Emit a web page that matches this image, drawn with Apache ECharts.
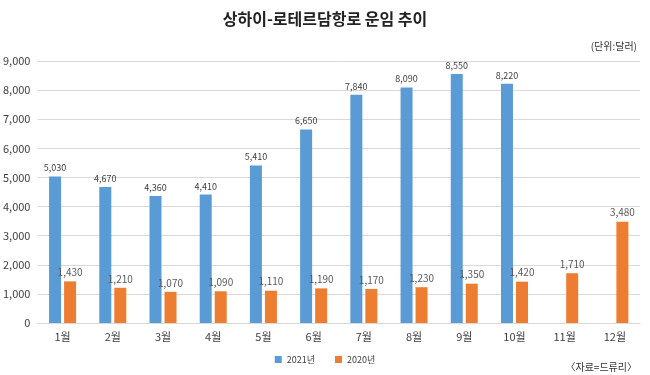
<!DOCTYPE html>
<html><head><meta charset="utf-8">
<script src="https://cdn.jsdelivr.net/npm/echarts@6/dist/echarts.min.js"></script>
<style>html,body{margin:0;padding:0;background:#fff}#c{width:650px;height:375px}</style>
</head><body><div id="c"></div>
<script>
const categories = ['1월','2월','3월','4월','5월','6월','7월','8월','9월','10월','11월','12월'];
const s2021 = [5030,4670,4360,4410,5410,6650,7840,8090,8550,8220,null,null];
const s2020 = [1430,1210,1070,1090,1110,1190,1170,1230,1350,1420,1710,3480];
const F = '"Noto Sans CJK KR","Noto Sans",sans-serif';
const chart = echarts.init(document.getElementById('c'));
chart.setOption({
  animation:false,
  textStyle:{fontFamily:F},
  title:[{text:'상하이-로테르담항로 운임 추이',left:'center',top:6,textStyle:{fontFamily:F,fontSize:16,fontWeight:'bold',color:'#222'}},
         {text:'(단위:달러)',right:8,top:36,textStyle:{fontFamily:F,fontSize:10,fontWeight:'normal',color:'#333'}},
         {text:'〈자료=드류리〉',right:8,top:357,textStyle:{fontFamily:F,fontSize:10,fontWeight:'normal',color:'#333'}}],
  legend:{bottom:6,left:'center',itemWidth:7,itemHeight:7,itemGap:20,icon:'rect',textStyle:{fontFamily:F,fontSize:9,color:'#404040'},data:['2021년','2020년']},
  grid:{left:37,right:10,top:61,bottom:52},
  xAxis:{type:'category',data:categories,axisTick:{show:false},axisLine:{lineStyle:{color:'#d9d9d9'}},
    axisLabel:{fontSize:11,color:'#404040',fontFamily:F,margin:8}},
  yAxis:{type:'value',min:0,max:9000,interval:1000,axisLine:{show:false},axisTick:{show:false},
    splitLine:{lineStyle:{color:'#d9d9d9'}},
    axisLabel:{fontSize:11,color:'#404040',fontFamily:F,margin:7,formatter:v=>v.toLocaleString('en-US')}},
  series:[
    {name:'2021년',type:'bar',data:s2021,barWidth:12,barGap:'25%',itemStyle:{color:'#5B9BD5'},
     label:{show:true,position:'top',fontSize:9,color:'#404040',distance:4,formatter:p=>p.value==null?'':p.value.toLocaleString('en-US')}},
    {name:'2020년',type:'bar',data:s2020,barWidth:12,itemStyle:{color:'#ED7D31'},
     label:{show:true,position:'top',fontSize:10,color:'#595959',distance:4,formatter:p=>p.value.toLocaleString('en-US')}}
  ]
});
</script></body></html>
